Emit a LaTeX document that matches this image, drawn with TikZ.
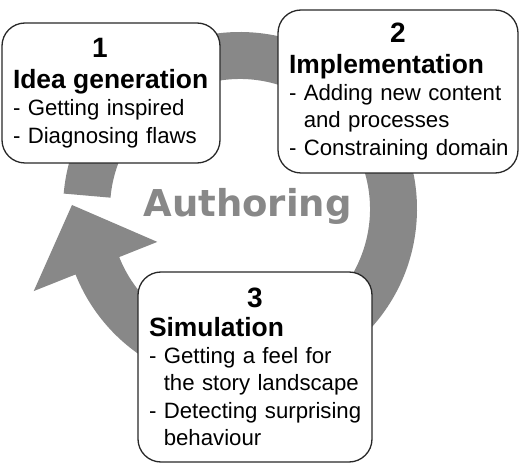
\documentclass[tikz,border=0pt]{standalone}
\usepackage{fontspec}
\setmainfont{Liberation Sans}
\newfontfamily\authfont{DejaVu Sans}

\definecolor{ringgray}{RGB}{136,136,136}
\definecolor{edgegray}{RGB}{40,40,40}

\newcommand{\numfont}{\fontsize{28}{27.3}\selectfont\bfseries}
\newcommand{\headfont}{\fontsize{26.4}{27.3}\selectfont\bfseries}
\newcommand{\boxnum}[2][0pt]{\leavevmode\hbox to\hsize{\hss\numfont #2\hskip #1\hss}}
\newcommand{\boxhead}[1]{\mbox{\headfont #1}}
\newcommand{\boxline}[1]{\mbox{- #1}}
\newcommand{\boxmore}[1]{\mbox{\hphantom{- }#1}}

\begin{document}
\begin{tikzpicture}[x=1pt, y=1pt]
    % Styles
    \tikzstyle{stepbox} = [rectangle, draw=edgegray, line width=1.3pt, fill=white,
        rounded corners=23pt, align=left, inner xsep=11pt, inner ysep=3pt,
        font=\fontsize{22.2}{27.3}\selectfont]
    \tikzstyle{cycletext} = [font={\authfont\fontsize{37}{40}\selectfont\bfseries},
        text=ringgray, anchor=base]

    \useasboundingbox (0,0) rectangle (520,464);
    \coordinate (hub) at (240,255);

    % === Authoring cycle arrow ===
    \begin{scope}[shift={(hub)}]
        \fill [ringgray] (175:177) arc[start angle=175, end angle=-158.3, radius=177]
            -- (-158.3:222) -- (-168,4) -- (-158.3:89) -- (-158.3:130)
            arc[start angle=-158.3, end angle=175, radius=130] -- cycle;
    \end{scope}
    \node [cycletext] (authoring) at (247.5,247) {Authoring};

    % === Steps ===
    \node [stepbox, text width=196pt, minimum height=140pt] (idea) at (111,371)
        {\boxnum[22pt]{1}\\[4pt]
         \boxhead{Idea generation}\\
         \boxline{Getting inspired}\\
         \boxline{Diagnosing flaws}};
    \node [stepbox, text width=218pt, minimum height=163pt] (impl) at (398,372.5)
        {\boxnum{2}\\[3pt]
         \boxhead{Implementation}\\
         \boxline{Adding new content}\\
         \boxmore{and processes}\\
         \boxline{Constraining domain}};
    \node [stepbox, text width=212pt, minimum height=190pt] (sim) at (255,97)
        {\boxnum{3}\\[1pt]
         \boxhead{Simulation}\\
         \boxline{Getting a feel for}\\
         \boxmore{the story landscape}\\
         \boxline{Detecting surprising}\\
         \boxmore{behaviour}};
\end{tikzpicture}
\end{document}
